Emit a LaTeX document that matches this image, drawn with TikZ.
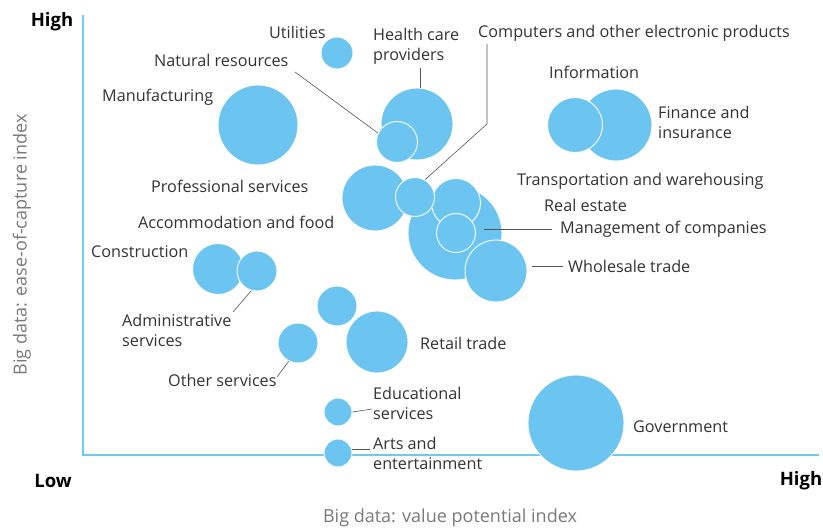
\documentclass[tikz,border=0pt]{standalone}
\usepackage{fontspec}
\setmainfont{Open Sans}
\definecolor{bub}{HTML}{6CC5F0}
\definecolor{axisc}{HTML}{72C7EE}
\definecolor{txt}{HTML}{333333}
\definecolor{axt}{HTML}{7A7A7A}
\definecolor{ln}{HTML}{555555}
\begin{document}
\begin{tikzpicture}[x=1pt,y=-1pt,
  bubble/.style={circle, fill=bub, draw=white, line width=0.9pt, inner sep=0pt, minimum size=#1},
  lbl/.style={font=\fontsize{16.2}{20}\selectfont, text=txt, inner sep=0pt, align=left},
  hl/.style={font=\fontsize{18.5}{20}\selectfont\bfseries, text=black, inner sep=0pt},
  axl/.style={font=\fontsize{18}{20}\selectfont, text=axt, inner sep=0pt},
  conn/.style={draw=ln, line width=0.6pt}]
\useasboundingbox (0,0) rectangle (823,529);
% axes
\coordinate (o) at (83,455);
\coordinate (ytop) at (83,15);
\coordinate (xend) at (819,455);
\draw[axisc, line width=2.6pt] (ytop) -- (o) -- (xend);
% axis labels
\node[hl] (hi1) at (52,22) {High};
\node[hl] (lo) at (53,481) {Low};
\node[hl] (hi2) at (801,481) {High};
\node[axl] (xlab) at (450,518) {Big data: value potential index};
\node[axl, rotate=90] (ylab) at (22,245) {Big data: ease-of-capture index};
% bubbles
\node[bubble=80pt] (manu) at (258,125) {};
\node[bubble=32pt] (util) at (337,53) {};
\node[bubble=72pt] (health) at (417,124) {};
\node[bubble=41pt] (natres) at (397,142) {};
\node[bubble=66pt] (prof) at (375,198) {};
\node[bubble=94pt] (real) at (455,233) {};
\node[bubble=49pt] (trans) at (456,203) {};
\node[bubble=39pt] (comp) at (415,197) {};
\node[bubble=39pt] (mgmt) at (456,233) {};
\node[bubble=62pt] (whole) at (496,271) {};
\node[bubble=72pt] (fin) at (616,125) {};
\node[bubble=55pt] (info) at (575,125) {};
\node[bubble=51pt] (constr) at (218,269) {};
\node[bubble=40pt] (admin) at (257,271) {};
\node[bubble=40pt] (accom) at (337,306) {};
\node[bubble=62pt] (retail) at (377,342) {};
\node[bubble=40pt] (other) at (298,343) {};
\node[bubble=28pt] (edu) at (338,412) {};
\node[bubble=28pt] (arts) at (338,453) {};
\node[bubble=96pt] (gov) at (576,423) {};
% labels
\node[lbl, anchor=west] (tutil) at (269,32) {Utilities};
\node[lbl, anchor=west] (thealth) at (373,46) {Health care\\providers};
\node[lbl, anchor=west] (tcomp) at (478,33) {Computers and other electronic products};
\node[lbl, anchor=west] (tnat) at (154,60) {Natural resources};
\node[lbl, anchor=west] (tmanu) at (102,97) {Manufacturing};
\node[lbl, anchor=west] (tinfo) at (549,72) {Information};
\node[lbl, anchor=west] (tfin) at (658,122) {Finance and\\insurance};
\node[lbl, anchor=west] (tprof) at (151,186) {Professional services};
\node[lbl, anchor=west] (ttrans) at (517,181) {Transportation and warehousing};
\node[lbl, anchor=west] (treal) at (544,205) {Real estate};
\node[lbl, anchor=west] (taccom) at (138,222) {Accommodation and food};
\node[lbl, anchor=west] (tmgmt) at (560,229) {Management of companies};
\node[lbl, anchor=west] (tconstr) at (91,252) {Construction};
\node[lbl, anchor=west] (twhole) at (568,266) {Wholesale trade};
\node[lbl, anchor=west] (tadmin) at (122,330) {Administrative\\services};
\node[lbl, anchor=west] (tretail) at (420,343) {Retail trade};
\node[lbl, anchor=west] (tother) at (168,380) {Other services};
\node[lbl, anchor=west] (tedu) at (373,403) {Educational\\services};
\node[lbl, anchor=west] (tarts) at (373,453) {Arts and\\entertainment};
\node[lbl, anchor=west] (tgov) at (633,427) {Government};
% connector end points
\coordinate (cnat) at (295,72);
\coordinate (chealth) at (420,68);
\coordinate (ccomp1) at (487,44);
\coordinate (ccomp2) at (487,124);
\coordinate (cmgmt1) at (484,229);
\coordinate (cmgmt2) at (552,229);
\coordinate (cwhole1) at (532,266);
\coordinate (cwhole2) at (563,266);
\coordinate (cadmin) at (233,312);
\coordinate (cother) at (277,377);
\coordinate (cedu) at (372,409);
\coordinate (carts) at (370,449);
% connectors
\draw[conn] (cnat) -- (natres.155);
\draw[conn] (chealth) -- (health.north -| chealth);
\draw[conn] (ccomp1) -- (ccomp2) -- (comp.60);
\draw[conn] (cmgmt1) -- (cmgmt2);
\draw[conn] (cwhole1) -- (cwhole2);
\draw[conn] (admin.254) -- (cadmin);
\draw[conn] (other.243) -- (cother);
\draw[conn] (edu.east) -- (cedu);
\draw[conn] (arts.east |- carts) -- (carts);
\end{tikzpicture}
\end{document}
